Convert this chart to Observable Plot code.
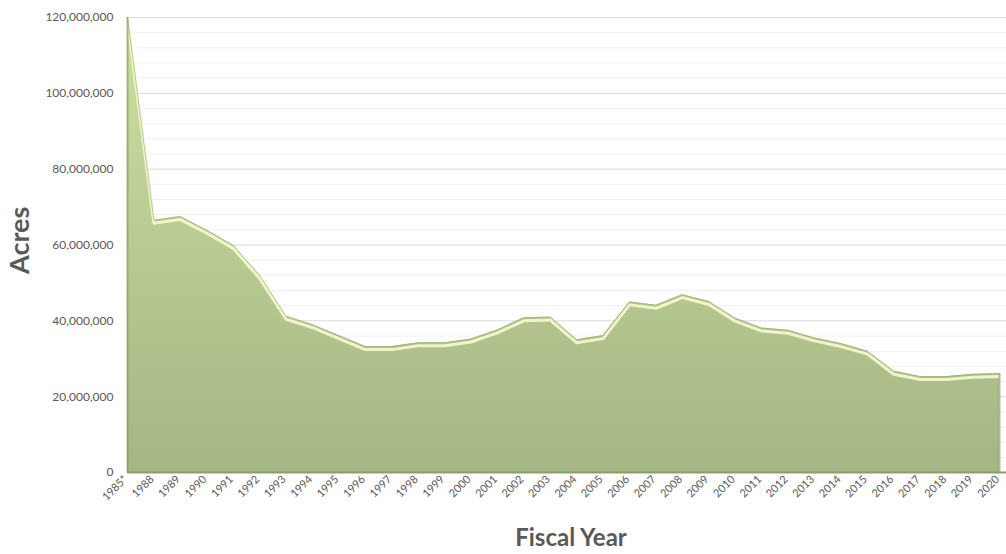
<!DOCTYPE html>
<html>
<head>
<meta charset="utf-8">
<script src="https://cdn.jsdelivr.net/npm/d3@7"></script>
<script src="https://cdn.jsdelivr.net/npm/@observablehq/plot@0.6"></script>
<style>
  html, body { margin: 0; padding: 0; background: #ffffff; }
  #chart { width: 1006px; height: 554px; overflow: hidden; }
  svg { font-family: Lato, "Open Sans", "Liberation Sans", sans-serif; }
</style>
</head>
<body>
<div id="chart"></div>
<script>
const years = ["1985*","1988","1989","1990","1991","1992","1993","1994","1995","1996","1997","1998","1999","2000","2001","2002","2003","2004","2005","2006","2007","2008","2009","2010","2011","2012","2013","2014","2015","2016","2017","2018","2019","2020"];
const acres = [120000000,66500000,67500000,63900000,59900000,52000000,41200000,39000000,36100000,33200000,33200000,34200000,34200000,35200000,37600000,40800000,41000000,35000000,36100000,45000000,44100000,46900000,45100000,40700000,38100000,37500000,35500000,34000000,32000000,26700000,25300000,25300000,25900000,26100000];
const majorTicks = [0,20000000,40000000,60000000,80000000,100000000,120000000];
const minorTicks = d3.range(0, 120000001, 4000000).filter(v => v % 20000000 !== 0);

const data = years.map((y, i) => ({i, year: y, value: acres[i]}));
const fmt = d3.format(",");
const edges = [data[0], data[data.length - 1]];
const idx = years.map((_, i) => i);

const chart = Plot.plot({
  width: 1006,
  height: 554,
  marginLeft: 127,
  marginRight: 0,
  marginTop: 17,
  marginBottom: 82,
  style: {fontFamily: "Lato, 'Open Sans', sans-serif", fontSize: "11px", color: "#595959", background: "#ffffff"},
  x: {type: "linear", domain: [0, years.length - 1], range: [127, 999], label: null},
  y: {domain: [0, 120000000], range: [472, 17], label: null},
  marks: [
    Plot.ruleY(minorTicks, {stroke: "#f0f0f0", strokeWidth: 1}),
    Plot.ruleY(majorTicks.slice(1), {stroke: "#d9d9d9", strokeWidth: 1}),
    Plot.areaY(data, {x: "i", y: "value", fill: "url(#areaGrad)"}),
    Plot.lineY(data, {x: "i", y: "value", stroke: "#f3f8cc", strokeWidth: 3, dy: 3, strokeOpacity: 0.95}),
    Plot.lineY(data, {x: "i", y: "value", stroke: "#9fb27a", strokeWidth: 1, strokeOpacity: 0.7}),
    Plot.ruleX(edges, {x: "i", y1: 0, y2: "value", stroke: "#7f8f60", strokeWidth: 2, strokeOpacity: 0.6}),
    Plot.ruleY([0], {stroke: "#8e9f6d", strokeWidth: 2}),
    Plot.axisY({ticks: majorTicks, tickFormat: fmt, tickSize: 0, tickPadding: 14, fontSize: 12, fill: "#595959"}),
    Plot.axisX({ticks: idx, tickFormat: i => years[i], tickSize: 0, tickRotate: -45, tickPadding: 5, dx: -2, fontSize: 11, fill: "#595959"}),
    Plot.text(["Fiscal Year"], {frameAnchor: "bottom", dx: 4, dy: 73, fontSize: 24, fontWeight: "bold", fill: "#595959"}),
    Plot.text(["Acres"], {frameAnchor: "left", dx: -107, dy: 29, rotate: -90, fontSize: 27, fontWeight: "bold", fill: "#595959"})
  ]
});

const ns = "http://www.w3.org/2000/svg";
const defs = document.createElementNS(ns, "defs");
const grad = document.createElementNS(ns, "linearGradient");
grad.setAttribute("id", "areaGrad");
grad.setAttribute("x1", "0"); grad.setAttribute("y1", "0");
grad.setAttribute("x2", "0"); grad.setAttribute("y2", "1");
[["0%", "#cde0a0"], ["35%", "#bfd196"], ["100%", "#a5b685"]].forEach(([o, c]) => {
  const s = document.createElementNS(ns, "stop");
  s.setAttribute("offset", o); s.setAttribute("stop-color", c);
  grad.appendChild(s);
});
defs.appendChild(grad);
chart.insertBefore(defs, chart.firstChild);
document.getElementById("chart").appendChild(chart);
</script>
</body>
</html>
